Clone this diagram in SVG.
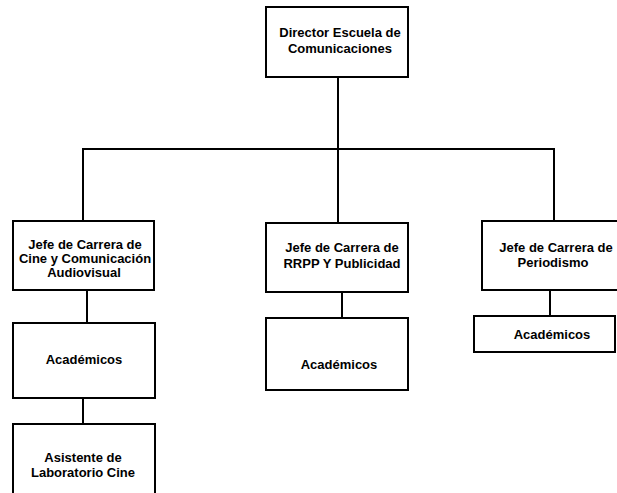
<svg xmlns="http://www.w3.org/2000/svg" width="617" height="493" viewBox="0 0 617 493">
<style>
.box{fill:#fff;stroke:#000;stroke-width:2}
.t{font-family:"Liberation Sans",Arial,sans-serif;font-weight:bold;font-size:13px;fill:#000;text-anchor:middle}
.c{stroke:#000;stroke-width:2;fill:none}
</style>
<rect width="617" height="493" fill="#fff"/>
<g id="connectors">
<line class="c" x1="338" y1="77" x2="338" y2="149" stroke-width="2.5"/>
<polyline class="c" points="83,220 83,149 554,149 554,220"/>
<line class="c" x1="338" y1="149" x2="338" y2="222"/>
<line class="c" x1="87" y1="290" x2="87" y2="323"/>
<line class="c" x1="83" y1="398" x2="83" y2="424"/>
<line class="c" x1="342" y1="292" x2="342" y2="318"/>
<line class="c" x1="550" y1="290" x2="550" y2="316"/>
</g>
<g id="director">
<rect class="box" x="266" y="7" width="142" height="70"/>
<text class="t" x="340" y="37">Director Escuela de</text>
<text class="t" x="340" y="53">Comunicaciones</text>
</g>
<g id="jefe-cine">
<rect class="box" x="13" y="221" width="141" height="69"/>
<text class="t" x="85" y="249">Jefe de Carrera de</text>
<text class="t" x="85" y="263">Cine y Comunicación</text>
<text class="t" x="84" y="277">Audiovisual</text>
</g>
<g id="jefe-rrpp">
<rect class="box" x="266" y="223" width="142" height="69"/>
<text class="t" x="342" y="252">Jefe de Carrera de</text>
<text class="t" x="342" y="268">RRPP Y Publicidad</text>
</g>
<g id="jefe-periodismo">
<rect class="box" x="482" y="221" width="140" height="69"/>
<text class="t" x="556" y="252">Jefe de Carrera de</text>
<text class="t" x="553" y="267">Periodismo</text>
</g>
<g id="academicos-cine">
<rect class="box" x="13" y="323" width="142" height="75"/>
<text class="t" x="84" y="364">Académicos</text>
</g>
<g id="asistente">
<rect class="box" x="13" y="424" width="142" height="80"/>
<text class="t" x="83" y="462">Asistente de</text>
<text class="t" x="83" y="477">Laboratorio Cine</text>
</g>
<g id="academicos-rrpp">
<rect class="box" x="266" y="318" width="142" height="72"/>
<text class="t" x="339" y="369">Académicos</text>
</g>
<g id="academicos-periodismo">
<rect class="box" x="474" y="316" width="141" height="36"/>
<text class="t" x="552" y="339">Académicos</text>
</g>
</svg>
